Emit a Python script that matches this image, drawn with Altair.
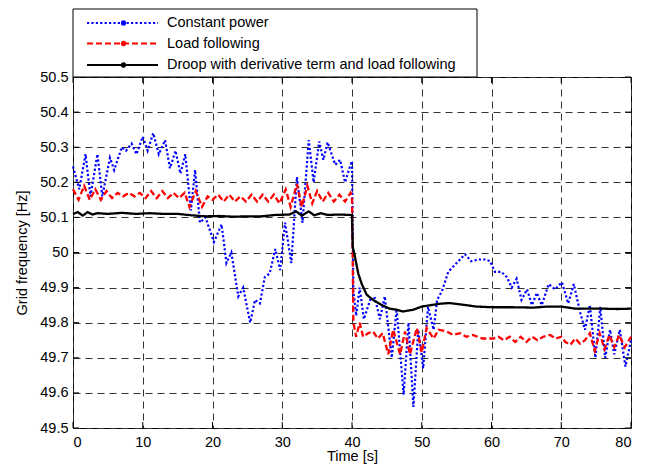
import altair as alt
import pandas as pd

# ---------------- data ----------------
BLUE_T = [0, 0.9, 1.8, 2.5, 3.5, 4.2, 5.3, 5.9, 7.0, 7.6, 8.4, 9.1, 10.0, 10.7, 11.5, 12.3, 13.2, 13.9,
          14.7, 15.4, 16.1, 16.9, 17.5, 18.2, 19.0, 20.2, 21.3, 22.0, 22.7, 23.7, 24.4, 25.4, 26.1, 26.8,
          27.5, 28.2, 29.0, 29.7, 30.4, 31.3, 32.1, 32.9, 33.8, 34.5, 35.3, 35.9, 36.5, 37.6, 38.3, 39.0,
          39.8, 40.0, 40.2, 40.6, 41.1, 41.7, 42.6, 43.3, 44.0, 44.7, 45.7, 46.4, 47.4, 48.1, 48.8, 49.5,
          50.2, 50.9, 51.7, 52.2, 52.9, 53.8, 55.0, 56.2, 57.1, 58.1, 59.1, 59.8, 60.5, 61.4, 62.2, 62.9,
          63.6, 64.3, 65.1, 65.8, 66.5, 67.2, 68.2, 69.1, 70.1, 71.0, 71.8, 72.7, 73.4, 74.1, 74.9, 75.6,
          76.3, 77.0, 77.6, 78.4, 79.2, 80.0]
BLUE_F = [50.245, 50.18, 50.28, 50.16, 50.28, 50.16, 50.27, 50.235, 50.30, 50.29, 50.31, 50.28, 50.33,
          50.29, 50.34, 50.28, 50.32, 50.24, 50.29, 50.225, 50.28, 50.12, 50.235, 50.085, 50.10, 50.03,
          50.08, 49.97, 50.00, 49.875, 49.90, 49.80, 49.865, 49.855, 49.93, 49.94, 50.01, 49.95, 50.085,
          49.97, 50.215, 50.085, 50.32, 50.20, 50.316, 50.264, 50.314, 50.25, 50.264, 50.20, 50.25, 50.26,
          49.89, 49.82, 49.90, 49.81, 49.865, 49.87, 49.81, 49.875, 49.70, 49.84, 49.595, 49.80, 49.56,
          49.78, 49.67, 49.845, 49.78, 49.865, 49.89, 49.945, 49.97, 49.995, 49.975, 49.98, 49.98, 49.975,
          49.945, 49.945, 49.93, 49.90, 49.925, 49.865, 49.895, 49.85, 49.885, 49.85, 49.91, 49.895, 49.915,
          49.855, 49.91, 49.83, 49.78, 49.85, 49.70, 49.845, 49.70, 49.78, 49.71, 49.78, 49.675, 49.75]

RED_T = [0, 0.8, 1.6, 2.4, 3.2, 4.0, 4.8, 5.6, 6.4, 7.2, 8.0, 8.8, 9.6, 10.4, 11.2, 12.0, 12.8, 13.6,
         14.4, 15.2, 16.0, 16.7, 17.6, 18.5, 19.3, 20.0, 20.8, 21.6, 22.4, 23.2, 24.0, 24.8, 25.6, 26.4,
         27.2, 28.0, 28.8, 29.6, 30.5, 31.2, 32.1, 32.8, 33.6, 34.3, 35.0, 35.8, 36.6, 37.4, 38.2, 39.0,
         39.8, 40.0, 40.2, 40.6, 41.1, 41.6, 42.3, 43.0, 43.7, 44.4, 45.2, 45.9, 46.9, 47.6, 48.3, 49.3,
         50.0, 50.7, 51.7, 52.4, 53.6, 54.5, 55.5, 56.4, 57.3, 58.7, 60.3, 61.0, 61.8, 62.6, 63.4, 64.2,
         65.0, 65.8, 66.6, 67.4, 68.4, 69.2, 70.0, 70.6, 71.3, 72.0, 72.7, 73.4, 74.1, 74.8, 75.5, 76.2,
         76.9, 77.6, 78.3, 79.1, 80.0]
RED_F = [50.18, 50.15, 50.19, 50.15, 50.18, 50.15, 50.175, 50.155, 50.17, 50.16, 50.17, 50.16, 50.17,
         50.155, 50.175, 50.155, 50.175, 50.155, 50.17, 50.155, 50.17, 50.13, 50.175, 50.13, 50.16, 50.15,
         50.165, 50.145, 50.165, 50.145, 50.16, 50.145, 50.165, 50.145, 50.165, 50.145, 50.165, 50.14,
         50.18, 50.13, 50.195, 50.13, 50.19, 50.14, 50.175, 50.145, 50.17, 50.145, 50.165, 50.145, 50.17,
         50.16, 49.80, 49.76, 49.80, 49.76, 49.77, 49.775, 49.755, 49.77, 49.71, 49.78, 49.71, 49.775,
         49.71, 49.785, 49.715, 49.785, 49.755, 49.78, 49.775, 49.765, 49.77, 49.76, 49.765, 49.755,
         49.755, 49.76, 49.75, 49.76, 49.745, 49.76, 49.745, 49.76, 49.75, 49.76, 49.765, 49.755, 49.76,
         49.745, 49.737, 49.755, 49.74, 49.75, 49.77, 49.72, 49.77, 49.725, 49.765, 49.73, 49.765, 49.73,
         49.76]

BLACK_T = [0, 0.7, 1.4, 2.1, 2.8, 3.5, 5, 7, 9, 11, 13, 15, 17, 19, 21, 23, 25, 27, 29, 31, 32, 32.8,
           33.8, 34.6, 35.5, 36.5, 38, 40, 40.1, 40.4, 40.9, 41.4, 42.1, 43, 44.3, 45.4, 46.4, 47.3, 48.8,
           50, 51.3, 52.6, 54, 56, 57.8, 60.2, 63, 66, 68, 70, 72, 74, 76, 78, 80]
BLACK_F = [50.11, 50.115, 50.105, 50.115, 50.108, 50.112, 50.11, 50.113, 50.11, 50.112, 50.11, 50.11,
           50.106, 50.103, 50.104, 50.102, 50.103, 50.103, 50.107, 50.108, 50.117, 50.105, 50.117, 50.106,
           50.112, 50.107, 50.108, 50.107, 50.017, 49.99, 49.94, 49.91, 49.88, 49.865, 49.85, 49.84,
           49.837, 49.832, 49.837, 49.846, 49.85, 49.854, 49.856, 49.851, 49.846, 49.844, 49.844, 49.843,
           49.846, 49.846, 49.84, 49.84, 49.84, 49.839, 49.84]

SERIES = ["Constant power", "Load following", "Droop with derivative term and load following"]
X_TICKS = [0, 10, 20, 30, 40, 50, 60, 70, 80]
Y_TICKS = [49.5, 49.6, 49.7, 49.8, 49.9, 50.0, 50.1, 50.2, 50.3, 50.4, 50.5]

# ---------------- layout / style ----------------
W, H = 558, 351
FONT = "Liberation Sans"
FS = 14.5
COLORS = ["#0000ff", "#ff0000", "#000000"]
DASHES = [[2.2, 2.2], [6, 3], [1, 0]]

xs = alt.Scale(domain=[0, 80], nice=False, zero=False)
ys = alt.Scale(domain=[49.5, 50.5], nice=False, zero=False)
X_AXIS = alt.Axis(values=X_TICKS, format="d", title="Time [s]", labelPadding=7, titlePadding=1, grid=True)
Y_AXIS = alt.Axis(values=Y_TICKS, format=".1~f", title="Grid frequency [Hz]",
                  labelPadding=5, titlePadding=10, grid=True)


def X():
    return alt.X("t:Q", scale=xs, axis=X_AXIS)


def Y():
    return alt.Y("f:Q", scale=ys, axis=Y_AXIS)


def series_layer(ts, fs, color, dash, width):
    df = pd.DataFrame({"t": ts, "f": fs})
    return alt.Chart(df).mark_line(color=color, strokeDash=dash, strokeWidth=width).encode(
        x=X(), y=Y(), order="t:Q")


layers = [
    series_layer(BLUE_T, BLUE_F, COLORS[0], DASHES[0], 2.2),
    series_layer(RED_T, RED_F, COLORS[1], DASHES[1], 2.3),
    series_layer(BLACK_T, BLACK_F, COLORS[2], DASHES[2], 2.3),
]

# inward ticks (box style)
xt = pd.DataFrame({"t": X_TICKS})
yt = pd.DataFrame({"f": Y_TICKS})
for y0, y1 in [(0, 6), (H - 6, H)]:
    layers.append(alt.Chart(xt).mark_rule(color="black", strokeWidth=1).encode(
        x=X(), y=alt.value(y0), y2=alt.value(y1)))
for x0, x1 in [(0, 6), (W - 6, W)]:
    layers.append(alt.Chart(yt).mark_rule(color="black", strokeWidth=1).encode(
        y=Y(), x=alt.value(x0), x2=alt.value(x1)))

# legend box above the plot
one = pd.DataFrame({"k": [0]})
layers.append(alt.Chart(one).mark_rect(fill="white", stroke="black", strokeWidth=1).encode(
    x=alt.value(0), x2=alt.value(404), y=alt.value(-68), y2=alt.value(0)))
for name, col, dash, yy in zip(SERIES, COLORS, DASHES, [-54, -33.5, -12]):
    layers.append(alt.Chart(one).mark_rule(color=col, strokeDash=dash, strokeWidth=2).encode(
        x=alt.value(14), x2=alt.value(85), y=alt.value(yy)))
    layers.append(alt.Chart(one).mark_point(filled=True, color=col, size=28, opacity=1).encode(
        x=alt.value(50.5), y=alt.value(yy)))
    layers.append(alt.Chart(pd.DataFrame({"label": [name]})).mark_text(
        align="left", baseline="middle", font=FONT, fontSize=FS, color="black").encode(
        text="label:N", x=alt.value(94), y=alt.value(yy)))

chart = alt.layer(*layers).properties(
    width=W, height=H,
    autosize=alt.AutoSizeParams(type="none"),
    padding={"left": 65, "top": 69, "right": 20, "bottom": 40},
).configure_view(stroke="black", strokeWidth=1).configure_axis(
    labelFont=FONT, labelFontSize=FS, labelColor="black",
    titleFont=FONT, titleFontSize=FS, titleFontWeight="normal", titleColor="black",
    gridColor="#333333", gridDash=[7, 5], gridWidth=1, gridOpacity=1,
    ticks=False, domain=False,
)

chart.save("out.html", embed_options={"renderer": "svg", "actions": False})
